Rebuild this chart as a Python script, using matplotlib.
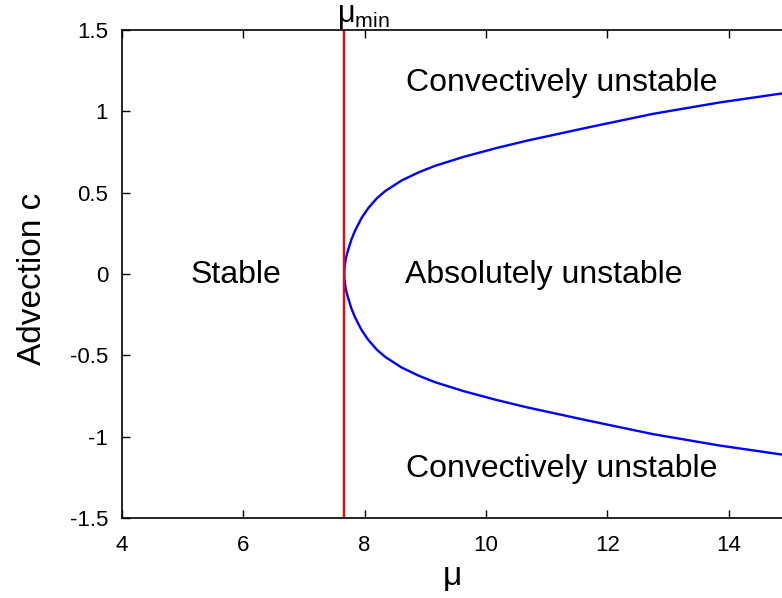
import numpy as np
import matplotlib
matplotlib.use('Agg')
import matplotlib.pyplot as plt

plt.rcParams['font.family'] = ['Liberation Sans', 'DejaVu Sans']
plt.rcParams['mathtext.fontset'] = 'custom'
plt.rcParams['mathtext.rm'] = 'Liberation Sans'

# boundary between absolute and convective instability (upper branch)
mu_vals = [7.665, 7.667, 7.671, 7.68, 7.69, 7.71, 7.73, 7.78, 7.84, 7.95, 8.06, 8.20, 8.34,
           8.61, 8.89, 9.16, 9.46, 9.63, 10.18, 10.68, 11.67, 12.76, 13.86, 14.88]
c_upper = [0.0, 0.027, 0.046, 0.07, 0.095, 0.125, 0.15, 0.21, 0.265, 0.345, 0.405, 0.465, 0.51,
           0.575, 0.625, 0.665, 0.70, 0.72, 0.775, 0.82, 0.90, 0.985, 1.055, 1.11]
mu_min = 7.66

# full curve: lower branch mirrored, then upper branch
mu_curve = mu_vals[::-1] + mu_vals[1:]
c_curve = [-c for c in c_upper[::-1]] + c_upper[1:]

fig = plt.figure(figsize=(7.82, 5.98), dpi=100)
ax = fig.add_axes([122 / 782, 80 / 598, 660 / 782, 488 / 598])

ax.plot(mu_curve, c_curve, color='#0000ff', lw=1.7)
ax.axvline(mu_min, color='#ff0000', lw=1.7)

ax.set_xlim(4, 14.88)
ax.set_ylim(-1.5, 1.5)
ax.set_xticks([4, 6, 8, 10, 12, 14])
ax.set_yticks([-1.5, -1, -0.5, 0, 0.5, 1, 1.5])
ax.set_yticklabels(['-1.5', '-1', '-0.5', '0', '0.5', '1', '1.5'])
ax.tick_params(direction='in', length=6, width=1, labelsize=16, top=True, right=False)
ax.tick_params(axis='x', pad=12)
ax.tick_params(axis='y', pad=10)
ax.spines['right'].set_visible(False)
for s in ['left', 'top', 'bottom']:
    ax.spines[s].set_linewidth(1.2)

ax.set_xlabel('μ', fontsize=24)
ax.xaxis.set_label_coords(0.5, -0.088)
ax.set_ylabel('Advection c', fontsize=24)
ax.yaxis.set_label_coords(-0.112, 0.49)

ax.text(11.24, 1.125, 'Convectively unstable', fontsize=23, ha='center', va='baseline')
ax.text(11.24, -1.248, 'Convectively unstable', fontsize=23, ha='center', va='baseline')
ax.text(10.96, -0.055, 'Absolutely unstable', fontsize=23, ha='center', va='baseline')
ax.text(5.88, -0.055, 'Stable', fontsize=23, ha='center', va='baseline')
ax.text(7.545, 1.548, r'$\mathregular{μ_{min}}$', fontsize=22, ha='left', va='baseline')

fig.savefig('out.png', dpi=100)
